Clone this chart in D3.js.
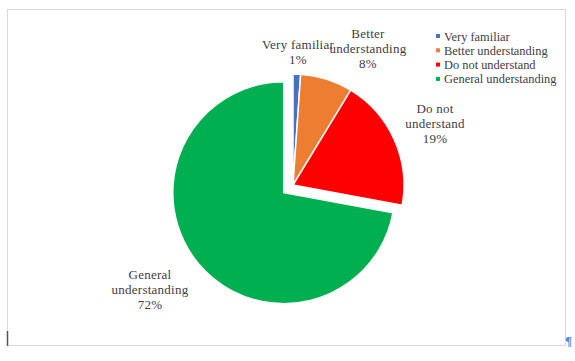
<!DOCTYPE html>
<html>
<head>
<meta charset="utf-8">
<script src="https://cdn.jsdelivr.net/npm/d3@7"></script>
<style>
  body { margin: 0; background: #fff; }
</style>
</head>
<body>
<svg id="chart" width="575" height="361"></svg>
<script>
// pie data
var categories = ["Very familiar", "Better understanding", "Do not understand", "General understanding"];
var values = [1.1, 7.6, 19.2, 72.1];
var pctLabels = ["1%", "8%", "19%", "72%"];
var colors = ["#4472C4", "#ED7D31", "#FF0000", "#00B050"];

var serif = "'Liberation Serif'";

var svg = d3.select("#chart");

// chart frame
svg.append("rect")
    .attr("x", 7.5).attr("y", 9.5)
    .attr("width", 558).attr("height", 336)
    .attr("fill", "none")
    .attr("stroke", "#d9d9d9")
    .attr("stroke-width", 1);

var cx = 293, cy = 185, r = 111;
var explode = 12;

var pie = d3.pie().sort(null).value(function(d) { return d; });
var arcs = pie(values);
var arc = d3.arc().innerRadius(0).outerRadius(r);

var g = svg.append("g").attr("transform", "translate(" + cx + "," + cy + ")");

g.selectAll("path")
    .data(arcs)
  .enter().append("path")
    .attr("d", arc)
    .attr("fill", function(d, i) { return colors[i]; })
    .attr("stroke", "#fff")
    .attr("stroke-width", 1.5)
    .attr("transform", function(d, i) {
        if (i != 3) return null;
        var a = (d.startAngle + d.endAngle) / 2;
        return "translate(" + (Math.sin(a) * explode) + "," + (-Math.cos(a) * explode) + ")";
    });

// data labels: name lines + percent
var labelLines = [
    ["Very familiar", pctLabels[0]],
    ["Better", "understanding", pctLabels[1]],
    ["Do not", "understand", pctLabels[2]],
    ["General", "understanding", pctLabels[3]]
];
var labelPos = [[298, 49], [368, 38], [435, 113], [150, 279]];

labelLines.forEach(function(lines, i) {
    var t = svg.append("text")
        .attr("x", labelPos[i][0])
        .attr("y", labelPos[i][1])
        .attr("text-anchor", "middle")
        .style("font-family", serif)
        .style("font-size", "13px")
        .style("letter-spacing", "0.25px")
        .attr("fill", "#404040");
    lines.forEach(function(s, j) {
        t.append("tspan")
            .attr("x", labelPos[i][0])
            .attr("dy", j == 0 ? 0 : 15)
            .text(s);
    });
});

// legend
var legend = svg.append("g").attr("transform", "translate(436,36)");
var item = legend.selectAll("g")
    .data(categories)
  .enter().append("g")
    .attr("transform", function(d, i) { return "translate(0," + (i * 14.3) + ")"; });
item.append("rect")
    .attr("x", 0).attr("y", -2)
    .attr("width", 4).attr("height", 4)
    .attr("fill", function(d, i) { return colors[i]; });
item.append("text")
    .attr("x", 8).attr("y", 4.5)
    .style("font-family", serif)
    .style("font-size", "12.4px")
    .attr("fill", "#404040")
    .text(function(d) { return d; });

// text cursor and paragraph mark from the document
svg.append("line")
    .attr("x1", 7.5).attr("x2", 7.5)
    .attr("y1", 331).attr("y2", 346)
    .attr("stroke", "#555").attr("stroke-width", 1.5);
svg.append("text")
    .attr("x", 565).attr("y", 345)
    .style("font-family", serif)
    .style("font-size", "13px")
    .style("font-weight", "bold")
    .attr("fill", "#4a90e2")
    .text("\u00B6");
</script>
</body>
</html>
